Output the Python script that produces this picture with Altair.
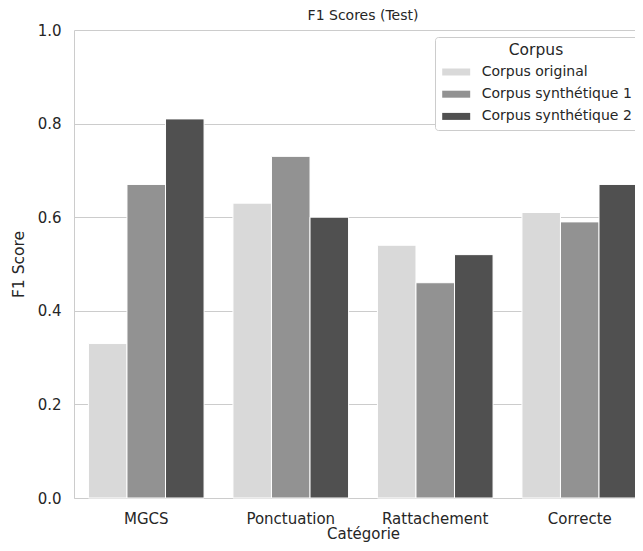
import altair as alt
import pandas as pd

categories = ["MGCS", "Ponctuation", "Rattachement", "Correcte"]
corpora = ["Corpus original", "Corpus synthétique 1", "Corpus synthétique 2"]
scores_original = [0.33, 0.63, 0.54, 0.61]
scores_synth1 = [0.67, 0.73, 0.46, 0.59]
scores_synth2 = [0.81, 0.60, 0.52, 0.67]
colors = ["#d9d9d9", "#929292", "#505050"]

rows = []
for series, vals in zip(corpora, [scores_original, scores_synth1, scores_synth2]):
    for c, v in zip(categories, vals):
        rows.append({"Catégorie": c, "Corpus": series, "F1": v})
df = pd.DataFrame(rows)

font = "DejaVu Sans"
txt = "#262626"

chart = alt.Chart(df).mark_bar(stroke="white", strokeWidth=1).encode(
    x=alt.X("Catégorie:N", sort=categories, title="Catégorie",
            scale=alt.Scale(paddingInner=0.2, paddingOuter=0.1, range=[0, 578]),
            axis=alt.Axis(labelAngle=0, ticks=False, domain=True, domainColor="#cccccc",
                          labelPadding=13, titlePadding=0, labelFontSize=15, titleFontSize=15,
                          labelColor=txt, titleColor=txt,
                          labelFont=font, titleFont=font, titleFontWeight="normal")),
    xOffset=alt.XOffset("Corpus:N", sort=corpora, scale=alt.Scale(paddingInner=0, paddingOuter=0)),
    y=alt.Y("F1:Q", title="F1 Score",
            scale=alt.Scale(domain=[0, 1], nice=False),
            axis=alt.Axis(values=[0, 0.2, 0.4, 0.6, 0.8, 1.0], format=".1f", ticks=False,
                          domain=True, domainColor="#cccccc", labelPadding=13, titlePadding=11,
                          gridColor="#cccccc", gridWidth=1,
                          labelFontSize=15, titleFontSize=15.5,
                          labelColor=txt, titleColor=txt,
                          labelFont=font, titleFont=font, titleFontWeight="normal")),
    color=alt.Color("Corpus:N", sort=corpora,
                    scale=alt.Scale(domain=corpora, range=colors),
                    legend=alt.Legend(orient="none", legendX=361, legendY=7,
                                      title="Corpus", titleAnchor="middle", titleAlign="center",
                                      titleFontSize=15.5, titleFont=font, titleFontWeight="normal",
                                      titleColor=txt, titlePadding=4,
                                      labelFontSize=14, labelFont=font, labelColor=txt,
                                      symbolType="M-1.5,-0.375L1.5,-0.375L1.5,0.375L-1.5,0.375Z",
                                      symbolSize=348, symbolStrokeWidth=0, symbolOffset=5.7,
                                      labelOffset=16, rowPadding=5.2, padding=6,
                                      fillColor="white", strokeColor="#cccccc", cornerRadius=3)),
).properties(
    width=561, height=468,
    title=alt.TitleParams("F1 Scores (Test)", fontSize=14, font=font, fontWeight="normal",
                          color=txt, anchor="middle", frame="group", offset=10, dx=8.5, dy=10),
    autosize=alt.AutoSizeParams(type="none"),
    padding={"left": 66, "top": 22, "right": 0, "bottom": 45},
).configure_view(stroke=None)

chart.save("out.html", embed_options={"renderer": "svg", "actions": False})
